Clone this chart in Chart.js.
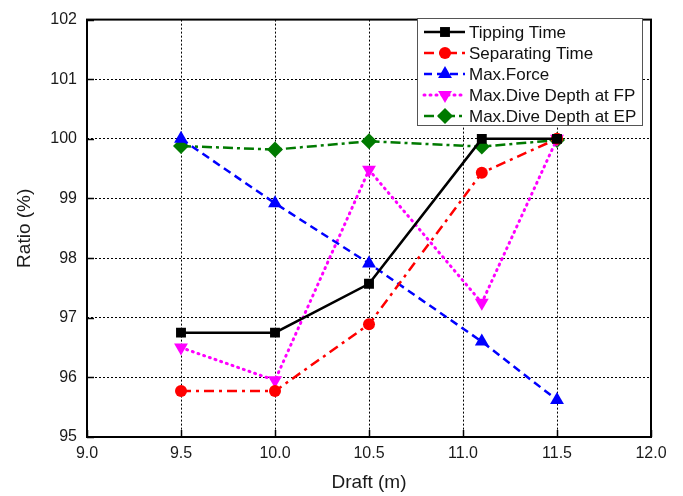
<!DOCTYPE html>
<html><head><meta charset="utf-8">
<script src="https://cdn.jsdelivr.net/npm/chart.js@4/dist/chart.umd.min.js"></script>
<style>html,body{margin:0;padding:0;background:#fff}#wrap{width:683px;height:496px;position:relative}</style>
</head><body><div id="wrap"><canvas id="c" width="683" height="496"></canvas></div>
<script>
const drafts = [9.5, 10.0, 10.5, 11.1, 11.5];
const tippingTime = [96.75, 96.75, 97.57, 100.0, 100.0];
const separatingTime = [95.77, 95.77, 96.89, 99.43, 100.0];
const maxForce = [100.0, 98.92, 97.91, 96.60, 95.62];
const diveDepthFP = [96.50, 95.95, 99.48, 97.25, 100.0];
const diveDepthEP = [99.88, 99.82, 99.96, 99.87, 99.98];
const seriesNames = ['Tipping Time', 'Separating Time', 'Max.Force', 'Max.Dive Depth at FP', 'Max.Dive Depth at EP'];
const xTickValues = [9.0, 9.5, 10.0, 10.5, 11.0, 11.5, 12.0];
const yTickValues = [95, 96, 97, 98, 99, 100, 101, 102];
const xTitle = 'Draft (m)';
const yTitle = 'Ratio (%)';

const FONT = '"Liberation Sans", Arial, sans-serif';
const pts = arr => drafts.map((x, i) => ({x: x, y: arr[i]}));

const styles = [
  {color: '#000000', dash: [], style: 'rect', radius: 7, rot: 0, width: 2.5, cap: 'butt'},
  {color: '#ff0000', dash: [10, 5, 3, 5], style: 'circle', radius: 6, rot: 0, width: 2.5, cap: 'butt'},
  {color: '#0000ff', dash: [8, 5], style: 'triangle', radius: 8, rot: 0, width: 2.5, cap: 'butt'},
  {color: '#ff00ff', dash: [1, 5], style: 'triangle', radius: 8, rot: 180, width: 3, cap: 'round'},
  {color: '#007a00', dash: [10, 4, 3, 4], style: 'rectRot', radius: 8, rot: 0, width: 2.5, cap: 'butt'}
];
const seriesData = [tippingTime, separatingTime, maxForce, diveDepthFP, diveDepthEP];

const datasets = seriesNames.map((name, i) => ({
  label: name,
  data: pts(seriesData[i]),
  borderColor: styles[i].color,
  backgroundColor: styles[i].color,
  borderWidth: styles[i].width,
  borderDash: styles[i].dash,
  borderCapStyle: styles[i].cap,
  pointStyle: styles[i].style,
  pointRadius: styles[i].radius,
  pointRotation: styles[i].rot,
  pointBorderWidth: 0,
  pointBackgroundColor: styles[i].color,
  pointBorderColor: styles[i].color,
  tension: 0,
  fill: false
}));

const framePlugin = {
  id: 'frame',
  beforeDatasetsDraw(chart) {
    const {ctx, chartArea: a} = chart;
    ctx.save();
    ctx.setLineDash([]);
    ctx.strokeStyle = '#000';
    ctx.lineWidth = 1.5;
    const xs = chart.scales.x, ys = chart.scales.y;
    xTickValues.forEach(v => {
      const px = Math.round(xs.getPixelForValue(v)) + 0.5;
      ctx.beginPath(); ctx.moveTo(px, a.bottom); ctx.lineTo(px, a.bottom - 7); ctx.stroke();
    });
    yTickValues.forEach(v => {
      const py = Math.round(ys.getPixelForValue(v)) + 0.5;
      ctx.beginPath(); ctx.moveTo(a.left, py); ctx.lineTo(a.left + 7, py); ctx.stroke();
    });
    ctx.lineWidth = 2;
    ctx.strokeRect(a.left, a.top, a.right - a.left, a.bottom - a.top);
    ctx.restore();
  }
};

const legendPlugin = {
  id: 'customLegend',
  afterDatasetsDraw(chart) {
    const ctx = chart.ctx;
    const bx = 417, by = 18, bw = 225, bh = 107;
    ctx.save();
    ctx.fillStyle = '#fff';
    ctx.fillRect(bx, by, bw, bh);
    ctx.strokeStyle = '#555';
    ctx.lineWidth = 1;
    ctx.setLineDash([]);
    ctx.strokeRect(bx + 0.5, by + 0.5, bw, bh);
    ctx.font = '17px ' + FONT;
    ctx.textBaseline = 'middle';
    ctx.textAlign = 'left';
    chart.data.datasets.forEach((ds, i) => {
      const y = by + 14 + i * 21;
      const x0 = 424, x1 = 465, xm = 445;
      ctx.strokeStyle = ds.borderColor;
      ctx.lineWidth = ds.borderWidth;
      ctx.lineCap = ds.borderCapStyle;
      ctx.setLineDash(ds.borderDash);
      ctx.beginPath(); ctx.moveTo(x0, y); ctx.lineTo(x1, y); ctx.stroke();
      ctx.setLineDash([]);
      ctx.lineCap = 'butt';
      ctx.fillStyle = ds.backgroundColor;
      ctx.strokeStyle = ds.borderColor;
      Chart.helpers.drawPoint(ctx, {
        pointStyle: ds.pointStyle,
        radius: ds.pointRadius,
        rotation: ds.pointRotation,
        borderWidth: 0
      }, xm, y);
      ctx.fillStyle = '#111';
      ctx.fillText(ds.label, 469, y + 1);
    });
    ctx.restore();
  }
};

new Chart(document.getElementById('c'), {
  type: 'line',
  data: {datasets: datasets},
  options: {
    responsive: false,
    animation: false,
    devicePixelRatio: 1,
    layout: {padding: {top: 16, right: 32, left: 0, bottom: 0}},
    plugins: {legend: {display: false}, tooltip: {enabled: false}},
    scales: {
      x: {
        type: 'linear', min: 9, max: 12,
        afterBuildTicks: s => { s.ticks = xTickValues.map(v => ({value: v})); },
        afterFit: s => { s.height = 59; },
        ticks: {callback: v => Number(v).toFixed(1), color: '#1a1a1a', font: {family: FONT, size: 16}, padding: 7, maxRotation: 0},
        grid: {color: '#000', lineWidth: 1, drawTicks: false},
        border: {display: false, dash: [2, 2]},
        title: {display: true, text: xTitle, color: '#1a1a1a', font: {family: FONT, size: 19}, padding: {top: 4, bottom: 2}}
      },
      y: {
        type: 'linear', min: 95, max: 102,
        afterBuildTicks: s => { s.ticks = yTickValues.map(v => ({value: v})); },
        afterFit: s => { s.width = 87; },
        ticks: {color: '#1a1a1a', font: {family: FONT, size: 16}, padding: 10},
        grid: {color: '#000', lineWidth: 1, drawTicks: false},
        border: {display: false, dash: [2, 2]},
        title: {display: true, text: yTitle, color: '#1a1a1a', font: {family: FONT, size: 19}, padding: {top: 13, bottom: 0}}
      }
    }
  },
  plugins: [framePlugin, legendPlugin]
});
</script>
</body></html>
